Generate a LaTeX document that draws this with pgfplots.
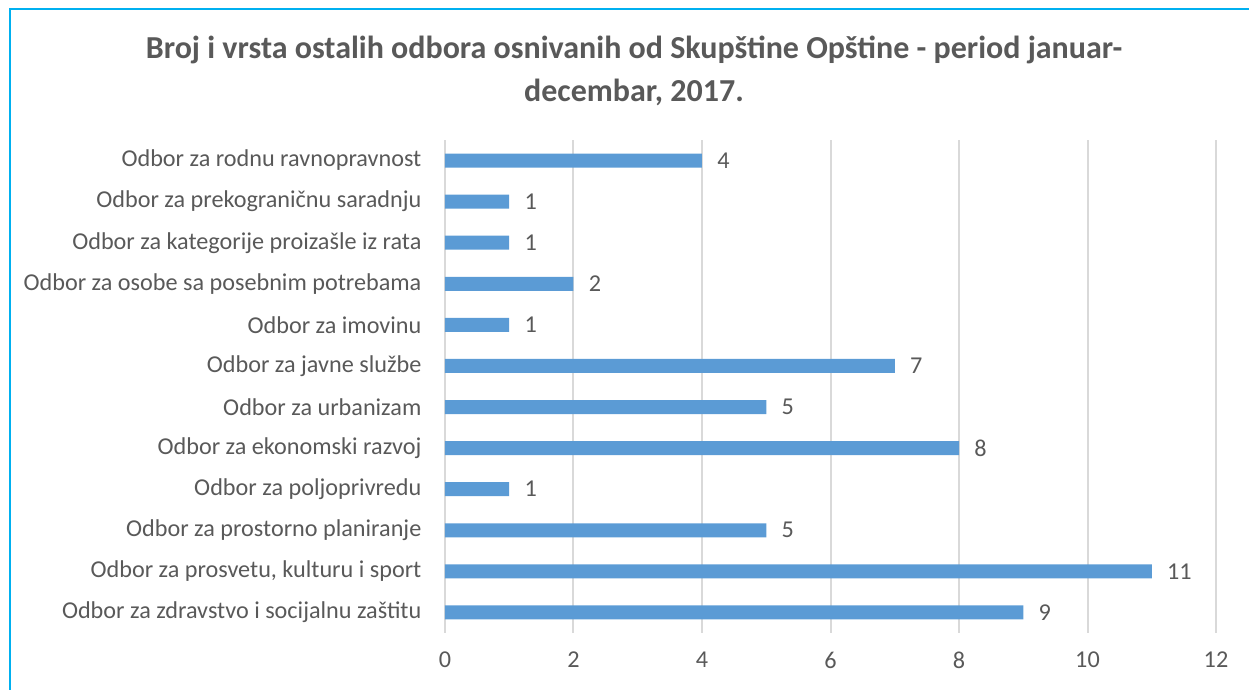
\documentclass[border=0pt]{standalone}
\usepackage{fontspec}
\setmainfont{Carlito}
\usepackage{pgfplots}
\pgfplotsset{compat=1.18}
\definecolor{barblue}{HTML}{5B9BD5}
\definecolor{frameblue}{HTML}{00B0F0}
\definecolor{txtgray}{HTML}{595959}
\definecolor{gridgray}{HTML}{D9D9D9}
\begin{document}
\begin{tikzpicture}
\useasboundingbox (0,0) rectangle (624.5pt,345pt);
% outer frame (continues beyond right and bottom edges)
\draw[frameblue, line width=1pt] (5pt,-20pt) -- (5pt,340.5pt) -- (650pt,340.5pt);
% title
\node[font=\fontsize{16}{19}\selectfont\bfseries, text=txtgray] at (317pt,320pt)
  {Broj i vrsta ostalih odbora osnivanih od Skupštine Opštine - period januar-};
\node[font=\fontsize{16}{19}\selectfont\bfseries, text=txtgray] at (317pt,299pt)
  {decembar, 2017.};
\begin{axis}[
    at={(222.5pt,28.5pt)}, anchor=south west,
    scale only axis,
    width=385.5pt, height=246.5pt,
    xbar, bar width=7pt, bar shift=0pt,
    xmin=0, xmax=12, ymin=-0.5, ymax=11.5,
    xtick={0,2,...,12},
    ytick={0,...,11},
    yticklabels={Odbor za zdravstvo i socijalnu zaštitu,
      {Odbor za prosvetu, kulturu i sport},
      Odbor za prostorno planiranje,
      Odbor za poljoprivredu,
      Odbor za ekonomski razvoj,
      Odbor za urbanizam,
      Odbor za javne službe,
      Odbor za imovinu,
      Odbor za osobe sa posebnim potrebama,
      Odbor za kategorije proizašle iz rata,
      Odbor za prekograničnu saradnju,
      Odbor za rodnu ravnopravnost},
    xmajorgrids, grid style={gridgray, line width=1pt},
    axis line style={draw=none},
    major tick style={draw=none},
    tick label style={font=\fontsize{12.1}{14}\selectfont, text=txtgray},
    xticklabel style={yshift=-6pt},
    yticklabel style={xshift=-4pt},
    /pgf/number format/assume math mode=true,
    nodes near coords,
    nodes near coords style={font=\fontsize{12.1}{14}\selectfont, text=txtgray, inner sep=0pt, xshift=7.5pt},
]
\addplot[fill=barblue, draw=none] coordinates {
  (9,0) (11,1) (5,2) (1,3) (8,4) (5,5) (7,6) (1,7) (2,8) (1,9) (1,10) (4,11)
};
\end{axis}
\end{tikzpicture}
\end{document}
